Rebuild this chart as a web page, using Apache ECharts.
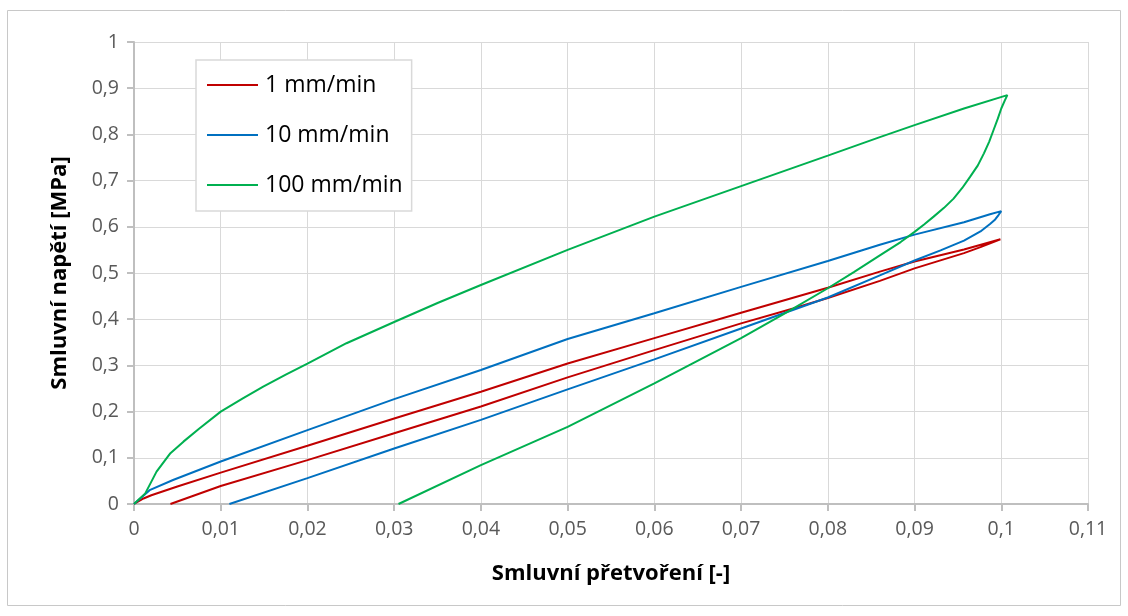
<!DOCTYPE html>
<html>
<head>
<meta charset="utf-8">
<script src="https://cdn.jsdelivr.net/npm/echarts@6/dist/echarts.min.js"></script>
<style>
html,body{margin:0;padding:0;background:#fff;}
#c{width:1128px;height:616px;}
</style>
</head>
<body>
<div id="c"></div>
<script>
// Series names
const seriesNames = ['1 mm/min', '10 mm/min', '100 mm/min'];

// 1 mm/min: loading then unloading, [strain, stress]
const rate1 = [
  [0,0],[0.0011,0.012],[0.002,0.019],[0.005,0.038],[0.01,0.068],[0.02,0.126],[0.03,0.185],
  [0.04,0.243],[0.05,0.304],[0.06,0.359],[0.07,0.414],[0.08,0.468],[0.086,0.503],
  [0.09,0.525],[0.0957,0.551],[0.0999,0.573],
  [0.0976,0.556],[0.0957,0.543],[0.09,0.510],[0.086,0.483],[0.08,0.446],[0.076,0.423],
  [0.07,0.391],[0.06,0.333],[0.05,0.274],[0.04,0.211],[0.03,0.153],[0.02,0.095],
  [0.01,0.039],[0.0042,0]
];

// 10 mm/min
const rate10 = [
  [0,0],[0.0018,0.030],[0.0045,0.052],[0.01,0.092],[0.02,0.160],[0.03,0.227],[0.04,0.290],
  [0.05,0.357],[0.06,0.413],[0.07,0.470],[0.08,0.526],[0.086,0.561],[0.09,0.583],
  [0.0957,0.610],[0.0987,0.627],[0.1,0.634],
  [0.0997,0.626],[0.0993,0.616],[0.0987,0.606],[0.0976,0.590],[0.0957,0.570],[0.093,0.549],
  [0.09,0.527],[0.086,0.495],[0.08,0.447],[0.07,0.380],[0.06,0.313],[0.05,0.248],[0.04,0.182],
  [0.03,0.120],[0.02,0.056],[0.011,0]
];

// 100 mm/min
const rate100 = [
  [0,0],[0.0013,0.023],[0.0026,0.070],[0.0042,0.110],[0.0057,0.135],[0.0075,0.163],
  [0.01,0.200],[0.0125,0.228],[0.0149,0.254],[0.0175,0.280],[0.02,0.304],[0.0245,0.348],
  [0.03,0.394],[0.035,0.435],[0.04,0.474],[0.05,0.550],
  [0.06,0.622],[0.07,0.688],[0.08,0.754],[0.086,0.794],[0.09,0.820],[0.0957,0.856],
  [0.1007,0.885],
  [0.1004,0.873],[0.1,0.856],[0.0996,0.834],[0.0991,0.809],[0.0986,0.784],[0.098,0.759],
  [0.0973,0.733],[0.0964,0.708],[0.0955,0.684],[0.0945,0.661],[0.0934,0.641],[0.0922,0.622],
  [0.0911,0.605],[0.09,0.589],[0.0884,0.567],[0.086,0.538],[0.083,0.502],[0.08,0.467],
  [0.075,0.412],[0.07,0.359],[0.06,0.261],[0.05,0.167],[0.04,0.084],[0.0305,0]
];

const seriesColors = ['#C00000', '#0070C0', '#00B050'];
const xAxisTitle = 'Smluvní přetvoření [-]';
const yAxisTitle = 'Smluvní napětí [MPa]';

const FONT = '"Open Sans", "Noto Sans", sans-serif';
const fmt = (v, d) => String(Math.round(v * Math.pow(10, d)) / Math.pow(10, d)).replace('.', ',');

const chart = echarts.init(document.getElementById('c'), null, {renderer: 'canvas'});
const allData = [rate1, rate10, rate100];

chart.setOption({
  animation: false,
  backgroundColor: '#fff',
  graphic: [{
    type: 'rect', silent: true, z: -10,
    shape: {x: 7.5, y: 10.5, width: 1113, height: 595},
    style: {fill: '#fff', stroke: '#c8c8c8', lineWidth: 1}
  }],
  grid: {left: 134, right: 40, top: 42, bottom: 112, containLabel: false},
  legend: {
    orient: 'vertical',
    left: 196, top: 60,
    padding: [11, 9, 12, 11],
    backgroundColor: '#fff',
    borderColor: '#d9d9d9', borderWidth: 1.5,
    itemWidth: 51, itemHeight: 2, itemGap: 22,
    icon: 'rect',
    textStyle: {fontFamily: FONT, fontSize: 23, color: '#000', lineHeight: 28, padding: [0,0,0,2]},
    data: seriesNames
  },
  xAxis: {
    type: 'value', min: 0, max: 0.11, interval: 0.01,
    name: xAxisTitle, nameLocation: 'middle', nameGap: 59,
    nameTextStyle: {fontFamily: FONT, fontSize: 22, fontWeight: 'bold', color: '#000'},
    axisLine: {show: true, onZero: false, lineStyle: {color: '#bfbfbf', width: 2}},
    axisTick: {show: true, length: 7, lineStyle: {color: '#bfbfbf', width: 2}},
    axisLabel: {fontFamily: FONT, fontSize: 19.5, color: '#595959', margin: 15,
      formatter: v => fmt(v, 2)},
    splitLine: {show: true, lineStyle: {color: '#d9d9d9', width: 1}}
  },
  yAxis: {
    type: 'value', min: 0, max: 1, interval: 0.1,
    name: yAxisTitle, nameLocation: 'middle', nameGap: 63,
    nameTextStyle: {fontFamily: FONT, fontSize: 22, fontWeight: 'bold', color: '#000'},
    axisLine: {show: true, lineStyle: {color: '#bfbfbf', width: 2}},
    axisTick: {show: true, length: 7, lineStyle: {color: '#bfbfbf', width: 2}},
    axisLabel: {fontFamily: FONT, fontSize: 19.5, color: '#595959', margin: 15,
      formatter: v => fmt(v, 1)},
    splitLine: {show: true, lineStyle: {color: '#d9d9d9', width: 1}}
  },
  series: seriesNames.map((n, i) => ({
    name: n, type: 'line', data: allData[i],
    showSymbol: false, symbol: 'none', smooth: false,
    lineStyle: {color: seriesColors[i], width: 2},
    itemStyle: {color: seriesColors[i]},
    z: 2 + i
  }))
});
</script>
</body>
</html>
